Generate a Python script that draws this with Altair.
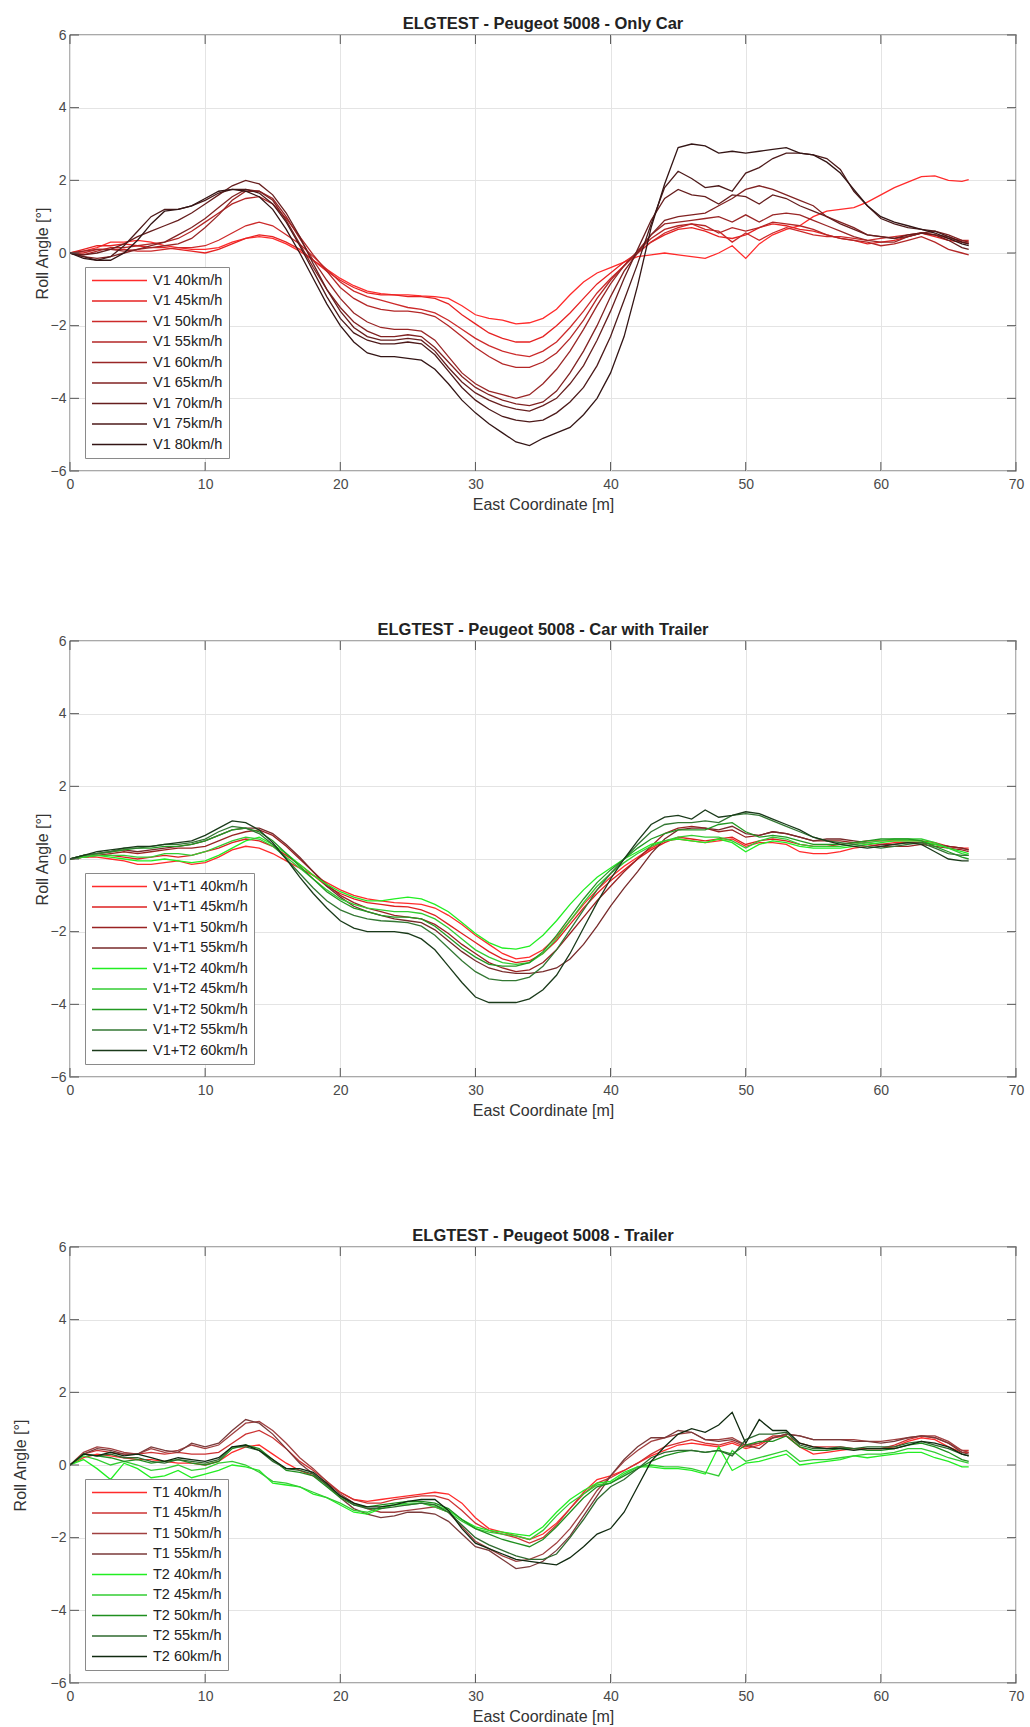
import altair as alt
import pandas as pd

FONT = "Liberation Sans"

# Sample positions along the track (East coordinate, m)
X = list(range(67)) + [66.5]
X_TICKS = [0, 10, 20, 30, 40, 50, 60, 70]
Y_TICKS = [-6, -4, -2, 0, 2, 4, 6]

# ---------------- Only Car ----------------
V1_40 = [0, 0.05, 0.15, 0.3, 0.3, 0.35, 0.3, 0.2, 0.15, 0.1,
         0.1, 0.15, 0.3, 0.4, 0.45, 0.4, 0.25, 0.05, -0.2, -0.45,
         -0.7, -0.9, -1.05, -1.12, -1.15, -1.15, -1.18, -1.2, -1.25, -1.45,
         -1.7, -1.8, -1.85, -1.95, -1.92, -1.8, -1.55, -1.15, -0.8, -0.55,
         -0.4, -0.25, -0.1, -0.05, 0.0, -0.05, -0.1, -0.15, 0.0, 0.2,
         -0.15, 0.25, 0.5, 0.65, 0.75, 1.0, 1.15, 1.2, 1.25, 1.4,
         1.6, 1.8, 1.95, 2.1, 2.12, 2.0, 1.97, 2.02]
V1_45 = [0, 0.1, 0.2, 0.2, 0.25, 0.2, 0.15, 0.15, 0.1, 0.05,
         0.0, 0.1, 0.25, 0.4, 0.5, 0.45, 0.3, 0.1, -0.2, -0.5,
         -0.75, -0.95, -1.1, -1.15, -1.15, -1.2, -1.2, -1.25, -1.4, -1.7,
         -1.95, -2.2, -2.35, -2.45, -2.45, -2.3, -2.0, -1.65, -1.25, -0.85,
         -0.55, -0.25, 0.0, 0.3, 0.5, 0.65, 0.7, 0.6, 0.45, 0.4,
         0.5, 0.7, 0.8, 0.75, 0.65, 0.6, 0.5, 0.4, 0.35, 0.25,
         0.3, 0.35, 0.45, 0.55, 0.45, 0.35, 0.3, 0.3]
V1_50 = [0, 0.0, 0.1, 0.1, 0.1, 0.05, 0.05, 0.1, 0.15, 0.15,
         0.2, 0.35, 0.55, 0.75, 0.85, 0.75, 0.5, 0.25, -0.1, -0.45,
         -0.8, -1.05, -1.2, -1.3, -1.4, -1.5, -1.55, -1.65, -1.85, -2.1,
         -2.35, -2.55, -2.7, -2.8, -2.85, -2.7, -2.45, -2.05, -1.6, -1.1,
         -0.7, -0.35, 0.0, 0.3, 0.55, 0.7, 0.8, 0.65, 0.6, 0.3,
         0.55, 0.35, 0.55, 0.7, 0.6, 0.5, 0.45, 0.45, 0.4, 0.35,
         0.4, 0.45, 0.5, 0.55, 0.5, 0.4, 0.35, 0.35]
V1_55 = [0, -0.05, 0.05, 0.15, 0.15, 0.2, 0.25, 0.3, 0.4, 0.6,
         0.85, 1.1, 1.35, 1.5, 1.55, 1.35, 0.95, 0.45, -0.05, -0.5,
         -0.95, -1.25, -1.45, -1.55, -1.6, -1.6, -1.65, -1.75, -2.0, -2.3,
         -2.6, -2.85, -3.05, -3.15, -3.15, -3.0, -2.75, -2.35, -1.85, -1.25,
         -0.75, -0.35, 0.05, 0.4, 0.65, 0.75, 0.8, 0.75, 0.55, 0.7,
         0.6, 0.7, 0.85, 0.8, 0.75, 0.65, 0.5, 0.4, 0.35, 0.3,
         0.2, 0.25, 0.35, 0.45, 0.3, 0.1, 0.0, -0.05]
V1_60 = [0, 0.05, 0.1, 0.1, 0.05, 0.1, 0.15, 0.2, 0.25, 0.4,
         0.7, 1.05, 1.45, 1.7, 1.7, 1.5, 1.0, 0.4, -0.2, -0.75,
         -1.25, -1.65, -1.9, -2.05, -2.1, -2.1, -2.15, -2.4, -2.85, -3.3,
         -3.6, -3.8, -3.9, -4.0, -3.9, -3.6, -3.2, -2.7, -2.1, -1.45,
         -0.85, -0.35, 0.05, 0.5, 0.8, 0.85, 0.9, 0.95, 1.0, 0.85,
         1.05, 0.85, 1.05, 1.1, 1.05, 0.9, 0.75, 0.6, 0.45, 0.35,
         0.3, 0.3, 0.45, 0.55, 0.5, 0.45, 0.3, 0.25]
V1_65 = [0, -0.1, -0.15, -0.1, 0.0, 0.1, 0.2, 0.3, 0.5, 0.7,
         0.95, 1.25, 1.55, 1.75, 1.7, 1.45, 0.9, 0.25, -0.4, -1.0,
         -1.5, -1.9, -2.15, -2.3, -2.3, -2.25, -2.3, -2.6, -3.0, -3.4,
         -3.7, -3.9, -4.05, -4.15, -4.2, -4.1, -3.8, -3.3, -2.7, -2.0,
         -1.2, -0.5, 0.0, 0.5, 0.9, 1.0, 1.05, 1.1, 1.3, 1.5,
         1.75, 1.85, 1.75, 1.6, 1.45, 1.3, 1.0, 0.85, 0.7, 0.5,
         0.45, 0.4, 0.45, 0.55, 0.6, 0.5, 0.35, 0.3]
V1_70 = [0, -0.05, 0.0, 0.1, 0.25, 0.45, 0.6, 0.75, 0.9, 1.1,
         1.35, 1.6, 1.85, 2.0, 1.9, 1.6, 1.1, 0.45, -0.3, -1.0,
         -1.6, -2.05, -2.3, -2.4, -2.4, -2.35, -2.4, -2.7, -3.15, -3.55,
         -3.85, -4.05, -4.2, -4.3, -4.35, -4.2, -4.0, -3.6, -3.1, -2.4,
         -1.6, -0.7, 0.1, 0.9, 1.5, 1.75, 1.6, 1.55, 1.35, 1.6,
         1.55, 1.35, 1.6, 1.5, 1.3, 1.15, 1.0, 0.8, 0.65, 0.5,
         0.45, 0.4, 0.5, 0.55, 0.5, 0.35, 0.15, 0.1]
V1_75 = [0, -0.1, -0.2, -0.1, 0.2, 0.6, 1.0, 1.2, 1.2, 1.3,
         1.45, 1.65, 1.75, 1.75, 1.65, 1.35, 0.85, 0.2, -0.5, -1.2,
         -1.8, -2.2, -2.4, -2.5, -2.5, -2.45, -2.5, -2.8, -3.25, -3.7,
         -4.05, -4.3, -4.5, -4.6, -4.65, -4.6, -4.4, -4.1, -3.7, -3.1,
         -2.3, -1.3, -0.3, 0.8, 1.8, 2.25, 2.05, 1.8, 1.85, 1.7,
         2.2, 2.35, 2.6, 2.75, 2.75, 2.7, 2.6, 2.3, 1.7, 1.3,
         0.95, 0.8, 0.7, 0.65, 0.6, 0.45, 0.3, 0.25]
V1_80 = [0, -0.15, -0.2, -0.2, 0.0, 0.35, 0.8, 1.15, 1.2, 1.3,
         1.5, 1.7, 1.75, 1.7, 1.55, 1.2, 0.65, 0.0, -0.7, -1.4,
         -2.0, -2.45, -2.75, -2.85, -2.85, -2.9, -2.95, -3.2, -3.6, -4.05,
         -4.4, -4.7, -4.95, -5.2, -5.3, -5.1, -4.95, -4.8, -4.45, -4.0,
         -3.3, -2.3, -0.9, 0.7, 1.9, 2.9, 3.0, 2.95, 2.75, 2.8,
         2.75, 2.8, 2.85, 2.9, 2.75, 2.7, 2.5, 2.2, 1.75, 1.3,
         1.0, 0.85, 0.75, 0.65, 0.55, 0.4, 0.25, 0.2]

# ---------------- Car with Trailer ----------------
CT_T1_40 = [0, 0.05, 0.05, 0.0, -0.05, -0.15, -0.15, -0.1, -0.05, -0.15,
            -0.1, 0.05, 0.25, 0.35, 0.3, 0.15, -0.05, -0.25, -0.45, -0.65,
            -0.85, -1.0, -1.1, -1.15, -1.2, -1.22, -1.25, -1.35, -1.55, -1.8,
            -2.1, -2.35, -2.6, -2.75, -2.7, -2.5, -2.15, -1.7, -1.25, -0.85,
            -0.5, -0.2, 0.05, 0.3, 0.5, 0.55, 0.5, 0.45, 0.5, 0.55,
            0.35, 0.45, 0.45, 0.4, 0.2, 0.15, 0.15, 0.2, 0.3, 0.35,
            0.4, 0.45, 0.45, 0.45, 0.4, 0.35, 0.3, 0.3]
CT_T1_45 = [0, 0.05, 0.1, 0.1, 0.05, 0.0, 0.05, 0.1, 0.05, 0.1,
            0.2, 0.3, 0.45, 0.55, 0.5, 0.35, 0.1, -0.15, -0.45, -0.75,
            -0.95, -1.1, -1.2, -1.25, -1.3, -1.32, -1.4, -1.55, -1.8, -2.05,
            -2.3, -2.55, -2.75, -2.85, -2.8, -2.6, -2.25, -1.8, -1.35, -0.95,
            -0.6, -0.3, 0.0, 0.25, 0.45, 0.6, 0.55, 0.5, 0.55, 0.6,
            0.4, 0.5, 0.55, 0.5, 0.4, 0.35, 0.35, 0.4, 0.45, 0.5,
            0.5, 0.5, 0.5, 0.5, 0.45, 0.35, 0.3, 0.25]
CT_T1_50 = [0, 0.05, 0.1, 0.15, 0.2, 0.15, 0.2, 0.25, 0.3, 0.3,
            0.35, 0.5, 0.65, 0.75, 0.8, 0.65, 0.35, 0.0, -0.35, -0.7,
            -1.0, -1.2, -1.35, -1.45, -1.55, -1.6, -1.65, -1.8, -2.05, -2.35,
            -2.6, -2.85, -3.0, -3.1, -3.05, -2.85, -2.5, -2.05, -1.6, -1.15,
            -0.75, -0.35, 0.0, 0.35, 0.7, 0.85, 0.9, 0.85, 0.75, 0.8,
            0.6, 0.65, 0.75, 0.7, 0.6, 0.5, 0.5, 0.5, 0.45, 0.4,
            0.35, 0.35, 0.35, 0.4, 0.35, 0.3, 0.25, 0.2]
CT_T1_55 = [0, 0.1, 0.15, 0.2, 0.25, 0.2, 0.25, 0.3, 0.35, 0.4,
            0.5, 0.65, 0.8, 0.85, 0.85, 0.7, 0.4, 0.05, -0.35, -0.75,
            -1.05, -1.3, -1.45, -1.55, -1.65, -1.7, -1.75, -1.95, -2.25, -2.55,
            -2.8, -3.0, -3.1, -3.15, -3.15, -3.1, -3.0, -2.75, -2.35, -1.85,
            -1.3, -0.8, -0.35, 0.15, 0.55, 0.8, 0.85, 0.85, 0.8, 0.9,
            0.7, 0.65, 0.75, 0.7, 0.6, 0.5, 0.55, 0.55, 0.5, 0.45,
            0.4, 0.4, 0.45, 0.45, 0.4, 0.35, 0.3, 0.25]
CT_T2_40 = [0, 0.05, 0.1, 0.05, 0.0, -0.05, -0.05, 0.0, -0.05, -0.1,
            -0.05, 0.1, 0.3, 0.5, 0.6, 0.4, 0.15, -0.15, -0.45, -0.7,
            -0.9, -1.05, -1.15, -1.15, -1.1, -1.05, -1.1, -1.25, -1.45, -1.75,
            -2.05, -2.3, -2.45, -2.48, -2.4, -2.1, -1.7, -1.25, -0.85, -0.5,
            -0.25, 0.0, 0.2, 0.4, 0.5, 0.55, 0.5, 0.45, 0.55, 0.45,
            0.2, 0.4, 0.5, 0.45, 0.35, 0.3, 0.3, 0.3, 0.35, 0.4,
            0.45, 0.5, 0.5, 0.5, 0.4, 0.3, 0.2, 0.15]
CT_T2_45 = [0, 0.05, 0.1, 0.1, 0.1, 0.05, 0.05, 0.15, 0.15, 0.1,
            0.2, 0.35, 0.5, 0.6, 0.55, 0.35, 0.05, -0.25, -0.55, -0.85,
            -1.1, -1.25, -1.35, -1.4, -1.45, -1.45, -1.5, -1.65, -1.9, -2.2,
            -2.5, -2.7, -2.85, -2.9, -2.85, -2.6, -2.2, -1.7, -1.2, -0.75,
            -0.4, -0.1, 0.15, 0.35, 0.5, 0.6, 0.65, 0.6, 0.6, 0.5,
            0.3, 0.5, 0.6, 0.55, 0.4, 0.35, 0.35, 0.35, 0.4, 0.45,
            0.5, 0.55, 0.55, 0.55, 0.45, 0.3, 0.15, 0.1]
CT_T2_50 = [0, 0.1, 0.15, 0.2, 0.25, 0.3, 0.3, 0.35, 0.35, 0.4,
            0.5, 0.65, 0.8, 0.85, 0.75, 0.5, 0.15, -0.2, -0.55, -0.9,
            -1.15, -1.35, -1.45, -1.55, -1.6, -1.6, -1.65, -1.85, -2.15, -2.45,
            -2.7, -2.9, -2.95, -2.95, -2.85, -2.55, -2.1, -1.6, -1.1, -0.65,
            -0.3, 0.0, 0.3, 0.55, 0.7, 0.8, 0.8, 0.8, 0.95, 1.0,
            0.75, 0.6, 0.65, 0.6, 0.5, 0.4, 0.4, 0.4, 0.45, 0.5,
            0.55, 0.55, 0.55, 0.5, 0.35, 0.2, 0.05, 0.0]
CT_T2_55 = [0, 0.1, 0.15, 0.2, 0.3, 0.3, 0.35, 0.4, 0.4, 0.45,
            0.55, 0.75, 0.9, 0.85, 0.7, 0.4, 0.0, -0.4, -0.8, -1.15,
            -1.4, -1.55, -1.65, -1.7, -1.72, -1.75, -1.85, -2.1, -2.45, -2.8,
            -3.1, -3.3, -3.35, -3.35, -3.25, -2.95, -2.5, -1.95, -1.4, -0.85,
            -0.4, 0.0, 0.4, 0.75, 0.95, 1.0, 1.0, 1.05, 1.0, 1.2,
            1.25, 1.2, 1.05, 0.9, 0.75, 0.6, 0.5, 0.45, 0.4, 0.35,
            0.3, 0.35, 0.4, 0.45, 0.3, 0.15, 0.1, 0.1]
CT_T2_60 = [0, 0.1, 0.2, 0.25, 0.3, 0.35, 0.35, 0.4, 0.45, 0.5,
            0.65, 0.85, 1.05, 1.0, 0.8, 0.45, 0.0, -0.5, -0.95, -1.35,
            -1.7, -1.9, -2.0, -2.0, -2.0, -2.05, -2.2, -2.5, -2.95, -3.4,
            -3.8, -3.95, -3.95, -3.95, -3.85, -3.6, -3.2, -2.6, -1.9, -1.2,
            -0.55, 0.0, 0.5, 0.95, 1.15, 1.2, 1.1, 1.35, 1.15, 1.2,
            1.3, 1.25, 1.1, 0.95, 0.8, 0.6, 0.5, 0.4, 0.35, 0.3,
            0.35, 0.4, 0.45, 0.4, 0.2, 0.0, -0.05, -0.05]

# ---------------- Trailer ----------------
TR_T1_40 = [0, 0.2, 0.3, 0.25, 0.2, 0.15, 0.15, 0.1, 0.05, 0.05,
            0.0, 0.1, 0.35, 0.5, 0.55, 0.3, 0.05, -0.15, -0.3, -0.5,
            -0.75, -0.95, -1.0, -0.95, -0.9, -0.85, -0.8, -0.75, -0.8, -1.05,
            -1.45, -1.75, -1.85, -1.95, -2.05, -1.9, -1.6, -1.2, -0.75, -0.4,
            -0.3, -0.15, 0.05, 0.25, 0.4, 0.55, 0.6, 0.55, 0.5, 0.6,
            0.45, 0.55, 0.75, 0.8, 0.5, 0.3, 0.35, 0.4, 0.45, 0.45,
            0.45, 0.5, 0.65, 0.75, 0.7, 0.5, 0.35, 0.35]
TR_T1_45 = [0, 0.3, 0.4, 0.35, 0.3, 0.3, 0.35, 0.3, 0.35, 0.3,
            0.3, 0.35, 0.6, 0.85, 0.95, 0.75, 0.45, 0.1, -0.15, -0.45,
            -0.75, -0.95, -1.05, -1.05, -0.95, -0.9, -0.85, -0.85, -0.95, -1.25,
            -1.6, -1.8, -1.9, -2.0, -2.15, -2.0, -1.65, -1.2, -0.8, -0.5,
            -0.35, -0.15, 0.05, 0.3, 0.5, 0.6, 0.7, 0.6, 0.55, 0.65,
            0.5, 0.6, 0.8, 0.8, 0.6, 0.5, 0.5, 0.5, 0.45, 0.45,
            0.45, 0.55, 0.7, 0.8, 0.75, 0.6, 0.4, 0.4]
TR_T1_50 = [0, 0.35, 0.5, 0.45, 0.35, 0.3, 0.45, 0.35, 0.4, 0.55,
            0.45, 0.55, 0.85, 1.15, 1.2, 0.95, 0.6, 0.2, -0.1, -0.45,
            -0.8, -1.05, -1.2, -1.3, -1.3, -1.25, -1.2, -1.15, -1.3, -1.7,
            -2.1, -2.3, -2.5, -2.65, -2.6, -2.45, -2.15, -1.75, -1.25, -0.7,
            -0.3, 0.1, 0.4, 0.65, 0.75, 0.85, 0.9, 0.7, 0.7, 0.75,
            0.55, 0.6, 0.75, 0.85, 0.8, 0.7, 0.7, 0.7, 0.7, 0.65,
            0.65, 0.7, 0.75, 0.8, 0.8, 0.65, 0.4, 0.35]
TR_T1_55 = [0, 0.3, 0.45, 0.4, 0.3, 0.3, 0.5, 0.4, 0.35, 0.6,
            0.5, 0.6, 0.95, 1.25, 1.15, 0.85, 0.45, 0.05, -0.25, -0.55,
            -0.9, -1.2, -1.35, -1.45, -1.4, -1.3, -1.3, -1.35, -1.55, -1.9,
            -2.25, -2.35, -2.6, -2.85, -2.8, -2.65, -2.35, -1.95, -1.4, -0.85,
            -0.3, 0.15, 0.5, 0.75, 0.75, 0.95, 0.9, 0.7, 0.65, 0.7,
            0.55, 0.45, 0.75, 0.85, 0.8, 0.7, 0.7, 0.7, 0.65, 0.65,
            0.6, 0.65, 0.75, 0.8, 0.75, 0.6, 0.35, 0.3]
TR_T2_40 = [0, 0.15, -0.1, -0.4, 0.05, -0.1, -0.35, -0.3, -0.15, -0.35,
            -0.25, -0.15, 0.0, -0.05, -0.15, -0.5, -0.55, -0.6, -0.8, -0.9,
            -1.1, -1.3, -1.35, -1.2, -1.1, -1.1, -1.05, -1.1, -1.25, -1.5,
            -1.7, -1.8, -1.85, -1.9, -1.95, -1.7, -1.3, -0.95, -0.7, -0.5,
            -0.45, -0.2, -0.05, -0.05, -0.1, -0.1, -0.15, -0.25, 0.5, -0.15,
            0.05, 0.1, 0.2, 0.3, 0.0, 0.05, 0.1, 0.15, 0.25, 0.2,
            0.25, 0.3, 0.35, 0.35, 0.2, 0.1, -0.05, -0.05]
TR_T2_45 = [0, 0.25, 0.15, 0.0, 0.1, 0.0, -0.15, -0.1, 0.0, -0.15,
            -0.1, 0.05, 0.1, 0.0, -0.2, -0.45, -0.5, -0.6, -0.75, -0.9,
            -1.05, -1.25, -1.3, -1.15, -1.1, -1.05, -1.05, -1.15, -1.3, -1.55,
            -1.75, -1.85, -1.9, -1.95, -2.05, -1.8, -1.4, -1.05, -0.8, -0.55,
            -0.5, -0.25, -0.05, 0.0, -0.05, -0.05, -0.1, -0.2, -0.3, 0.4,
            0.1, 0.2, 0.3, 0.4, 0.1, 0.15, 0.15, 0.2, 0.25, 0.3,
            0.3, 0.35, 0.45, 0.45, 0.35, 0.2, 0.1, 0.05]
TR_T2_50 = [0, 0.3, 0.25, 0.2, 0.1, 0.15, 0.05, 0.1, 0.15, 0.05,
            0.0, 0.1, 0.45, 0.55, 0.45, 0.15, -0.15, -0.2, -0.3, -0.6,
            -0.9, -1.1, -1.15, -1.1, -1.05, -1.0, -1.0, -1.05, -1.2, -1.5,
            -1.75, -1.9, -2.05, -2.15, -2.25, -2.05, -1.7, -1.3, -0.9, -0.6,
            -0.5, -0.3, -0.1, 0.1, 0.25, 0.35, 0.4, 0.35, 0.4, 0.3,
            0.55, 0.65, 0.65, 0.8, 0.5, 0.4, 0.4, 0.45, 0.45, 0.4,
            0.4, 0.45, 0.55, 0.6, 0.5, 0.35, 0.15, 0.1]
TR_T2_55 = [0, 0.3, 0.25, 0.3, 0.2, 0.2, 0.1, 0.05, 0.15, 0.1,
            0.05, 0.15, 0.5, 0.5, 0.4, 0.1, -0.1, -0.15, -0.25, -0.55,
            -0.85, -1.1, -1.2, -1.2, -1.15, -1.1, -1.05, -1.1, -1.3, -1.65,
            -2.0, -2.2, -2.35, -2.5, -2.6, -2.6, -2.45, -2.0, -1.5, -0.95,
            -0.6, -0.4, -0.1, 0.2, 0.35, 0.4, 0.4, 0.35, 0.4, 0.25,
            0.7, 0.85, 0.85, 0.9, 0.55, 0.45, 0.45, 0.5, 0.45, 0.5,
            0.5, 0.5, 0.6, 0.65, 0.55, 0.45, 0.3, 0.25]
TR_T2_60 = [0, 0.3, 0.25, 0.35, 0.25, 0.3, 0.2, 0.1, 0.2, 0.15,
            0.1, 0.2, 0.5, 0.55, 0.4, 0.15, -0.1, -0.1, -0.2, -0.5,
            -0.85, -1.05, -1.15, -1.15, -1.1, -1.0, -0.95, -0.95, -1.25, -1.75,
            -2.15, -2.3, -2.45, -2.6, -2.65, -2.7, -2.75, -2.55, -2.25, -1.9,
            -1.75, -1.3, -0.6, 0.1, 0.5, 0.85, 1.0, 0.9, 1.1, 1.45,
            0.6, 1.25, 0.95, 0.95, 0.6, 0.5, 0.45, 0.45, 0.4, 0.45,
            0.45, 0.45, 0.55, 0.65, 0.6, 0.5, 0.3, 0.25]

CAR_NAMES = ["V1 40km/h", "V1 45km/h", "V1 50km/h", "V1 55km/h", "V1 60km/h",
             "V1 65km/h", "V1 70km/h", "V1 75km/h", "V1 80km/h"]
CAR_SERIES = [V1_40, V1_45, V1_50, V1_55, V1_60, V1_65, V1_70, V1_75, V1_80]
CAR_COLORS = ["#ff2b2b", "#e62222", "#cc2a2a", "#b32626", "#992626",
              "#802222", "#661e1e", "#4d1a1a", "#331515"]

COMBO_NAMES = ["V1+T1 40km/h", "V1+T1 45km/h", "V1+T1 50km/h", "V1+T1 55km/h",
               "V1+T2 40km/h", "V1+T2 45km/h", "V1+T2 50km/h", "V1+T2 55km/h",
               "V1+T2 60km/h"]
COMBO_SERIES = [CT_T1_40, CT_T1_45, CT_T1_50, CT_T1_55,
                CT_T2_40, CT_T2_45, CT_T2_50, CT_T2_55, CT_T2_60]
COMBO_COLORS = ["#ff2b2b", "#dd2020", "#992222", "#772a2a",
                "#22ee22", "#33cc33", "#229922", "#337733", "#1a3a1a"]

TRAILER_NAMES = ["T1 40km/h", "T1 45km/h", "T1 50km/h", "T1 55km/h",
                 "T2 40km/h", "T2 45km/h", "T2 50km/h", "T2 55km/h", "T2 60km/h"]
TRAILER_SERIES = [TR_T1_40, TR_T1_45, TR_T1_50, TR_T1_55,
                  TR_T2_40, TR_T2_45, TR_T2_50, TR_T2_55, TR_T2_60]
TRAILER_COLORS = ["#ff2b2b", "#cc3333", "#a04040", "#7a3a3a",
                  "#22ee22", "#33cc33", "#1f8f1f", "#2f6a2f", "#102a10"]

for s in CAR_SERIES + COMBO_SERIES + TRAILER_SERIES:
    assert len(s) == len(X), len(s)

W, H = 946, 436
TICK_LEN = 9
BOX = "#555555"

x_scale = alt.Scale(domain=[0, 70], nice=False, zero=False)
y_scale = alt.Scale(domain=[-6, 6], nice=False, zero=False)
x_axis = alt.Axis(values=X_TICKS, title="East Coordinate [m]",
                  labelPadding=6, titlePadding=5)


def y_axis(pad):
    return alt.Axis(values=Y_TICKS, title="Roll Angle [°]",
                    labelPadding=4, titlePadding=pad)


def panel(title, names, series, colors, ytitle_pad):
    rows = [{"x": x, "y": y, "run": n}
            for n, ys in zip(names, series) for x, y in zip(X, ys)]
    df = pd.DataFrame(rows)
    ya = y_axis(ytitle_pad)

    lines = alt.Chart(df).mark_line(strokeWidth=1.3, clip=True).encode(
        x=alt.X("x:Q", scale=x_scale, axis=x_axis),
        y=alt.Y("y:Q", scale=y_scale, axis=ya),
        color=alt.Color("run:N", scale=alt.Scale(domain=names, range=colors),
                        legend=alt.Legend(
                            title=None, orient="none", legendX=15, legendY=232,
                            symbolType="stroke", symbolSize=3025,
                            symbolStrokeWidth=1.5, labelFont=FONT,
                            labelFontSize=14.5, labelColor="#222222",
                            labelOffset=5, padding=6, clipHeight=15,
                            rowPadding=4.5, strokeColor="#8a8a8a",
                            fillColor="white")),
    )

    # inward-pointing tick marks on all four sides of the box
    yt = pd.DataFrame({"y": Y_TICKS})
    xt = pd.DataFrame({"x": X_TICKS})
    tick_l = alt.Chart(yt).mark_rule(color=BOX, strokeWidth=1).encode(
        y=alt.Y("y:Q", scale=y_scale, axis=ya),
        x=alt.value(0), x2=alt.value(TICK_LEN))
    tick_r = alt.Chart(yt).mark_rule(color=BOX, strokeWidth=1).encode(
        y=alt.Y("y:Q", scale=y_scale, axis=ya),
        x=alt.value(W - TICK_LEN), x2=alt.value(W))
    tick_b = alt.Chart(xt).mark_rule(color=BOX, strokeWidth=1).encode(
        x=alt.X("x:Q", scale=x_scale, axis=x_axis),
        y=alt.value(H), y2=alt.value(H - TICK_LEN))
    tick_t = alt.Chart(xt).mark_rule(color=BOX, strokeWidth=1).encode(
        x=alt.X("x:Q", scale=x_scale, axis=x_axis),
        y=alt.value(0), y2=alt.value(TICK_LEN))

    return alt.layer(lines, tick_l, tick_r, tick_b, tick_t).properties(
        width=W, height=H,
        title=alt.TitleParams(title, font=FONT, fontSize=16.5, fontWeight="bold",
                              color="#222222", offset=-4, anchor="middle"),
    )


p1 = panel("ELGTEST - Peugeot 5008 - Only Car", CAR_NAMES, CAR_SERIES,
           CAR_COLORS, 0)
p2 = panel("ELGTEST - Peugeot 5008 - Car with Trailer", COMBO_NAMES,
           COMBO_SERIES, COMBO_COLORS, 0)
p3 = panel("ELGTEST - Peugeot 5008 - Trailer", TRAILER_NAMES, TRAILER_SERIES,
           TRAILER_COLORS, 21.5)

chart = alt.VConcatChart(vconcat=[p1, p2, p3], spacing=170, bounds="flush").resolve_scale(
    color="independent"
).resolve_legend(
    color="independent"
).properties(
    padding={"left": 11, "top": 14, "right": 4, "bottom": 0},
    background="white",
).configure_view(
    stroke=BOX, strokeWidth=1.3,
).configure_axis(
    labelFont=FONT, labelFontSize=14, labelColor="#4a4a4a",
    titleFont=FONT, titleFontSize=16, titleFontWeight="normal",
    titleColor="#333333", domain=False, ticks=False, grid=True,
    gridColor="#e4e4e4", gridWidth=1, labelFlush=False, labelOverlap=False,
)

chart.save("out.html", embed_options={"renderer": "svg", "actions": False})
